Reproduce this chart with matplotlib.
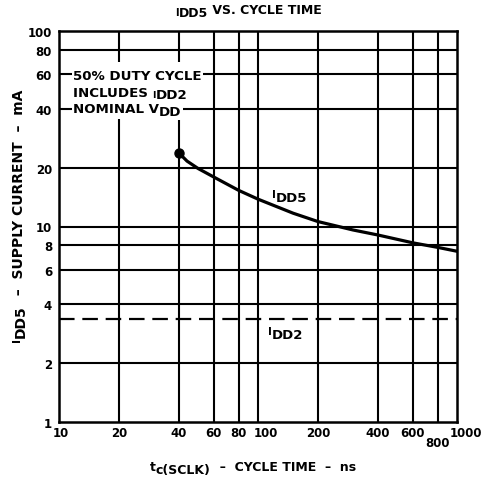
import matplotlib
matplotlib.use('Agg')
import matplotlib.pyplot as plt
from matplotlib.patches import Rectangle
from matplotlib.transforms import ScaledTranslation

plt.rcParams['font.family'] = ['DejaVu Sans']
plt.rcParams['font.weight'] = 'bold'

# data
cycle_ns = [40, 44, 50, 60, 80, 100, 150, 200, 300, 400, 600, 800, 1000]
idd5_ma = [23.8, 21.6, 19.8, 17.9, 15.3, 13.8, 11.7, 10.6, 9.6, 9.05, 8.25, 7.82, 7.47]
idd2_ns = [10, 1000]
idd2_ma = [3.35, 3.35]
x_ticks = [10, 20, 40, 60, 80, 100, 200, 400, 600, 800, 1000]
y_ticks = [1, 2, 4, 6, 8, 10, 20, 40, 60, 80, 100]

W, H = 482, 481
fig = plt.figure(figsize=(W / 100, H / 100), dpi=100)
ax = fig.add_axes([59 / W, 1 - 423 / H, 398 / W, 391 / H])
ax.set_xscale('log')
ax.set_yscale('log')
ax.set_xlim(x_ticks[0], x_ticks[-1])
ax.set_ylim(y_ticks[0], y_ticks[-1])

# grid: verticals under the note mask, horizontals over it
for v in x_ticks[1:-1]:
    ax.axvline(v, color='black', lw=1.5, zorder=1)
ax.add_patch(Rectangle((0.008, 0.775), 0.36, 0.146, transform=ax.transAxes,
                       fc='white', ec='none', zorder=2))
for v in y_ticks[1:-1]:
    ax.axhline(v, color='black', lw=1.5, zorder=2.5)

ax.plot(cycle_ns, idd5_ma, color='black', lw=2.3, zorder=5)
ax.plot(cycle_ns[:1], idd5_ma[:1], 'o', color='black', ms=6.5, zorder=5)
ax.plot(idd2_ns, idd2_ma, color='black', lw=1.6, ls=(0, (7, 3.5)), zorder=5)

ax.xaxis.set_minor_locator(matplotlib.ticker.NullLocator())
ax.yaxis.set_minor_locator(matplotlib.ticker.NullLocator())
ax.set_xticks(x_ticks, labels=[str(v) for v in x_ticks])
ax.set_yticks(y_ticks, labels=[str(v) for v in y_ticks])
ax.tick_params(axis='x', length=0, pad=3, labelsize=8.5)
ax.tick_params(axis='y', length=0, pad=5, labelsize=8.5)
# a few x labels sit off their lines in the original
x_nudge = {'10': (0.02, 0), '100': (0.08, 0), '800': (0, -0.10), '1000': (0.09, 0)}
for lbl in ax.get_xticklabels():
    if lbl.get_text() in x_nudge:
        dx, dy = x_nudge[lbl.get_text()]
        lbl.set_transform(lbl.get_transform() + ScaledTranslation(dx, dy, fig.dpi_scale_trans))
for sp in ax.spines.values():
    sp.set_linewidth(1.8)
    sp.set_zorder(6)

BOX = dict(boxstyle='square,pad=0.1', fc='white', ec='none')


def chain_text(x, y, pieces, size, rot=False):
    # x, y: reference pixel position of the first piece's baseline start
    # pieces: (text, baseline shift in pt, size scale, white box?)
    first, shift, scale, boxed = pieces[0]
    prev = fig.text(x / W, 1 - y / H, first, fontsize=size * scale,
                    ha='left', va='baseline', rotation=90 if rot else 0,
                    rotation_mode='anchor', bbox=BOX if boxed else None, zorder=7)
    for txt, shift, scale, boxed in pieces[1:]:
        if rot:
            prev = ax.annotate(txt, xy=(0, 1), xycoords=prev, xytext=(-shift, 0),
                               textcoords='offset points', rotation=90,
                               ha='left', va='bottom', fontsize=size * scale,
                               bbox=BOX if boxed else None, zorder=7)
        else:
            prev = ax.annotate(txt, xy=(1, 0), xycoords=prev, xytext=(0, shift),
                               textcoords='offset points', ha='left', va='bottom',
                               fontsize=size * scale, bbox=BOX if boxed else None,
                               zorder=7)
    return prev


# title and axis labels
chain_text(175, 15.5, [('I', 0, 0.8, False), ('DD5', -1.5, 1.0, False),
                       (' VS. CYCLE TIME', 1.5, 1.0, False)], 9)
chain_text(150, 471, [('t', 0, 1.0, False), ('c(SCLK)', -2.5, 1.0, False),
                      ('  \u2013  CYCLE TIME  \u2013  ns', 2.5, 1.0, False)], 9)
chain_text(20, 342, [('I', 0, 0.8, False), ('DD5', -1.5, 1.0, False),
                     ('  \u2013  SUPPLY CURRENT  \u2013  mA', 1.5, 1.0, False)], 10, rot=True)

# note block
chain_text(73, 80, [('50% DUTY CYCLE', 0, 1.0, True)], 9.6)
chain_text(73, 96.7, [('INCLUDES ', 0, 1.0, False), ('I', 0, 0.7, False),
                      ('DD2', -1.5, 1.0, False)], 9.6)
chain_text(73, 113, [('NOMINAL V', 0, 1.0, True), ('DD', -2.5, 1.0, True)], 9.6)

# curve labels
chain_text(272, 198, [('I', 0, 0.8, False), ('DD5', -3.5, 1.0, False)], 9.5)
chain_text(268, 335, [('I', 0, 0.8, False), ('DD2', -3.5, 1.0, False)], 9.5)

fig.savefig('out.png', dpi=100)
